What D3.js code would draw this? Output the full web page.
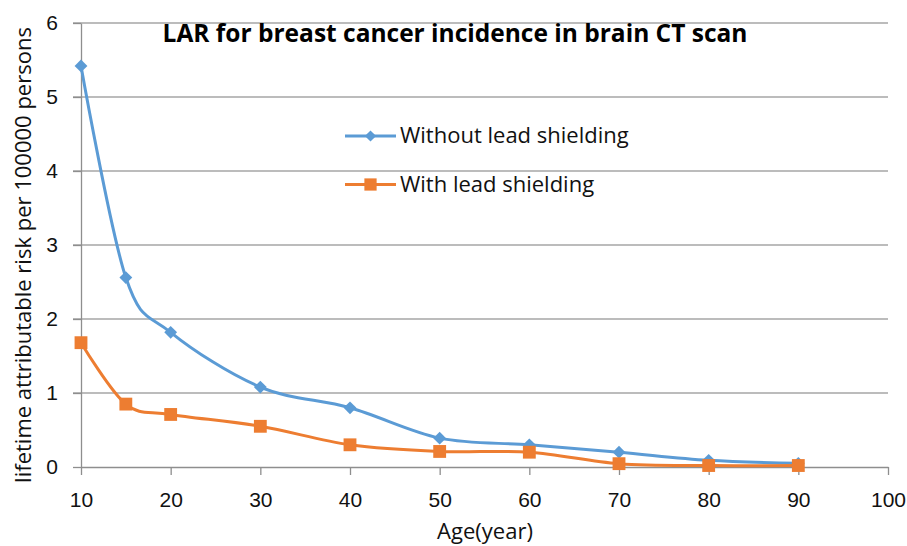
<!DOCTYPE html>
<html>
<head>
<meta charset="utf-8">
<script src="https://cdn.jsdelivr.net/npm/d3@7"></script>
<style>
	html, body { margin: 0; padding: 0; background: #fff; }
	svg { display: block; font-family: "Open Sans", "DejaVu Sans", sans-serif; }
</style>
</head>
<body>
<div id="box"></div>
<script>
// values
const ages = [10, 15, 20, 30, 40, 50, 60, 70, 80, 90];
const withoutShield = [5.42, 2.56, 1.82, 1.08, 0.80, 0.39, 0.30, 0.20, 0.09, 0.05];
const withShield = [1.68, 0.85, 0.71, 0.55, 0.30, 0.21, 0.20, 0.045, 0.02, 0.02];
const seriesNames = ['Without lead shielding', 'With lead shielding'];
const xTicks = [10, 20, 30, 40, 50, 60, 70, 80, 90, 100];
const yTicks = [0, 1, 2, 3, 4, 5, 6];

const title = 'LAR for breast cancer incidence in brain CT scan';
const xTitle = 'Age(year)';
const yTitle = 'lifetime attributable risk per 100000 persons';

const width = 907;
const height = 546;

const marginTop = 23;
const marginRight = 19;
const marginBottom = 79;
const marginLeft = 81;

const colors = ['#5b9bd5', '#ed7d31'];
const gridColor = '#a6a6a6';
const axisColor = '#8e8e8e';
const textColor = '#111';

const xScale = d3.scaleLinear([10, 100], [marginLeft, width - marginRight]);
const yScale = d3.scaleLinear([0, 6], [height - marginBottom, marginTop]);

const svg = d3.select('#box').append('svg')
	.attr('width', width)
	.attr('height', height)
	.attr('viewBox', [0, 0, width, height]);

// horizontal grid
svg.append('g')
	.selectAll('line')
	.data(yTicks.filter(v => v > 0))
	.join('line')
	.attr('x1', marginLeft - 8)
	.attr('x2', width - marginRight)
	.attr('y1', d => yScale(d))
	.attr('y2', d => yScale(d))
	.attr('stroke', gridColor)
	.attr('stroke-width', 1.3);

const xAxis = d3.axisBottom(xScale).tickValues(xTicks).tickSize(8).tickPadding(17).tickSizeOuter(0);
const yAxis = d3.axisLeft(yScale).tickValues(yTicks).tickFormat(d3.format('d'))
	.tickSize(8).tickPadding(15).tickSizeOuter(0);

const styleAxis = g => {
	g.selectAll('.domain, .tick line').attr('stroke', axisColor).attr('stroke-width', 1.3);
	g.selectAll('text')
		.attr('font-size', 21)
		.attr('font-family', null)
		.attr('fill', textColor);
};

svg.append('g')
	.attr('transform', `translate(0,${height - marginBottom})`)
	.call(xAxis)
	.call(styleAxis);

svg.append('g')
	.attr('transform', `translate(${marginLeft},0)`)
	.call(yAxis)
	.call(styleAxis);

// series
const series = [withoutShield, withShield];
const line = d3.line()
	.curve(d3.curveCatmullRom.alpha(0))
	.x((_, i) => xScale(ages[i]))
	.y(d => yScale(d));

series.forEach((vals, k) => {
	svg.append('path')
		.attr('fill', 'none')
		.attr('stroke', colors[k])
		.attr('stroke-width', 3)
		.attr('stroke-linejoin', 'round')
		.attr('d', line(vals));
});

const shapes = [d3.symbol(d3.symbolDiamond2, 105), d3.symbol(d3.symbolSquare, 165)];

series.forEach((vals, k) => {
	svg.append('g')
		.selectAll('path')
		.data(vals)
		.join('path')
		.attr('transform', (d, i) => `translate(${xScale(ages[i])},${yScale(d)})`)
		.attr('d', shapes[k])
		.attr('fill', colors[k]);
});

// legend
const legendShapes = [d3.symbol(d3.symbolDiamond2, 80), d3.symbol(d3.symbolSquare, 150)];
const legend = svg.append('g')
	.selectAll('g')
	.data(seriesNames)
	.join('g')
	.attr('transform', (d, i) => `translate(345,${136 + i * 48.5})`);

legend.append('line')
	.attr('x1', 0)
	.attr('x2', 51)
	.attr('stroke', (d, i) => colors[i])
	.attr('stroke-width', 3);

legend.append('path')
	.attr('transform', 'translate(25.5,0)')
	.attr('d', (d, i) => legendShapes[i]())
	.attr('fill', (d, i) => colors[i]);

legend.append('text')
	.attr('x', 55)
	.attr('y', 7)
	.attr('font-size', 22)
	.attr('fill', textColor)
	.text(d => d);

// titles
svg.append('text')
	.attr('x', 455)
	.attr('y', 42)
	.attr('text-anchor', 'middle')
	.attr('font-size', 24.5)
	.attr('font-weight', 'bold')
	.attr('fill', '#000')
	.text(title);

svg.append('text')
	.attr('x', 485)
	.attr('y', 539)
	.attr('text-anchor', 'middle')
	.attr('font-size', 22)
	.attr('fill', textColor)
	.text(xTitle);

svg.append('text')
	.attr('transform', 'translate(31,255) rotate(-90)')
	.attr('text-anchor', 'middle')
	.attr('font-size', 22)
	.attr('fill', textColor)
	.text(yTitle);
</script>
</body>
</html>
